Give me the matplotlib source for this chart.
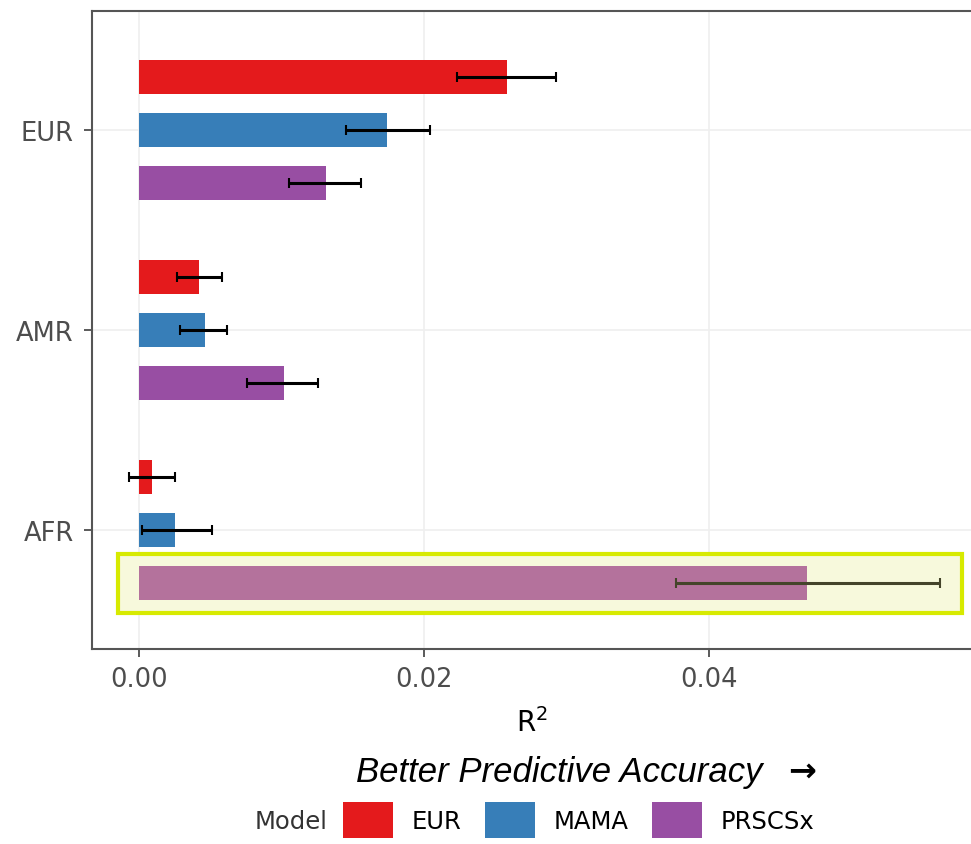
import matplotlib.pyplot as plt
from matplotlib.patches import Patch, Rectangle
import numpy as np

# Data
ancestries = ["EUR", "AMR", "AFR"]
models     = ["EUR", "MAMA", "PRSCSx"]
colors     = ["#e41a1c", "#377eb8", "#984ea3"]

r2 = {
    "EUR":    [0.0258, 0.0042, 0.0009],
    "MAMA":   [0.0174, 0.0046, 0.0025],
    "PRSCSx": [0.0131, 0.0102, 0.0469],
}
r2_low = {
    "EUR":    [0.0223, 0.0027, -0.0007],
    "MAMA":   [0.0145, 0.0029, 0.0002],
    "PRSCSx": [0.0105, 0.0076, 0.0377],
}
r2_high = {
    "EUR":    [0.0293, 0.0058, 0.0025],
    "MAMA":   [0.0204, 0.0062, 0.0051],
    "PRSCSx": [0.0156, 0.0126, 0.0562],
}

# highlighted bar: AFR target, PRSCSx model
hl_anc, hl_model = 2, 2

fig = plt.figure(figsize=(9.71, 8.45), dpi=100)
ax = fig.add_axes([0.0947, 0.2308, 0.9053, 0.755])

dodge = 0.267
bar_h = 0.17
base = np.arange(len(ancestries))

for i, (m, c) in enumerate(zip(models, colors)):
    y = base + (i - 1) * dodge
    vals = np.array(r2[m])
    err = np.array([vals - np.array(r2_low[m]), np.array(r2_high[m]) - vals])
    bar_cols = [c] * len(vals)
    err_cols = ["black"] * len(vals)
    if i == hl_model:
        bar_cols[hl_anc] = "#b4729c"
        err_cols[hl_anc] = "#44442a"
    ax.barh(y, vals, height=bar_h, color=bar_cols, zorder=2)
    for k in range(len(vals)):
        ax.errorbar(vals[k], y[k], xerr=err[:, k:k + 1], fmt="none",
                    ecolor=err_cols[k], elinewidth=2.2, capsize=3.5,
                    capthick=1.5, zorder=3)

# Highlight box
hy = base[hl_anc] + (hl_model - 1) * dodge
ax.add_patch(Rectangle((-0.00147, hy - 0.147), 0.05922, 0.294,
                       facecolor="#f7f9dc", edgecolor="none",
                       zorder=1, clip_on=False))
ax.add_patch(Rectangle((-0.00147, hy - 0.147), 0.05922, 0.294,
                       facecolor="none", edgecolor="#d7ea00", linewidth=3,
                       zorder=5, clip_on=False))

ax.set_xlim(-0.0033, 0.0584)
ax.set_ylim(2.595, -0.595)
ax.set_yticks(base)
ax.set_yticklabels(ancestries)
ax.set_xticks([0.0, 0.02, 0.04])
ax.set_xticklabels(["0.00", "0.02", "0.04"])
ax.tick_params(labelsize=18.5, labelcolor="#4d4d4d", color="#4d4d4d",
               length=6, width=1.3)
ax.tick_params(axis="y", pad=7)
ax.tick_params(axis="x", pad=6)
ax.grid(True, color="#efefef", linewidth=1.2, zorder=0)
ax.set_axisbelow(True)
for s in ["left", "top", "bottom"]:
    ax.spines[s].set_color("#555555")
    ax.spines[s].set_linewidth(1.5)
ax.spines["right"].set_visible(False)

ax.set_xlabel("R$^2$", fontsize=20, labelpad=11)

fig.text(0.367, 0.086, "Better Predictive Accuracy", fontsize=25,
         style="italic", family=["Liberation Sans", "DejaVu Sans"],
         ha="left", va="center")
fig.text(0.826, 0.087, "\u2192", fontsize=24, fontweight="bold",
         ha="center", va="center")

fig.text(0.3, 0.027, "Model", fontsize=17.5, color="#333333",
         ha="center", va="center")
handles = [Patch(facecolor=c, label=m) for m, c in zip(models, colors)]
fig.legend(handles=handles, loc="center", bbox_to_anchor=(0.596, 0.028), ncol=3,
           frameon=False, fontsize=17.5, handlelength=2.06, handleheight=1.9,
           columnspacing=0.95, handletextpad=0.78, borderaxespad=0, borderpad=0)

plt.savefig("out.png", dpi=100)
plt.close()
